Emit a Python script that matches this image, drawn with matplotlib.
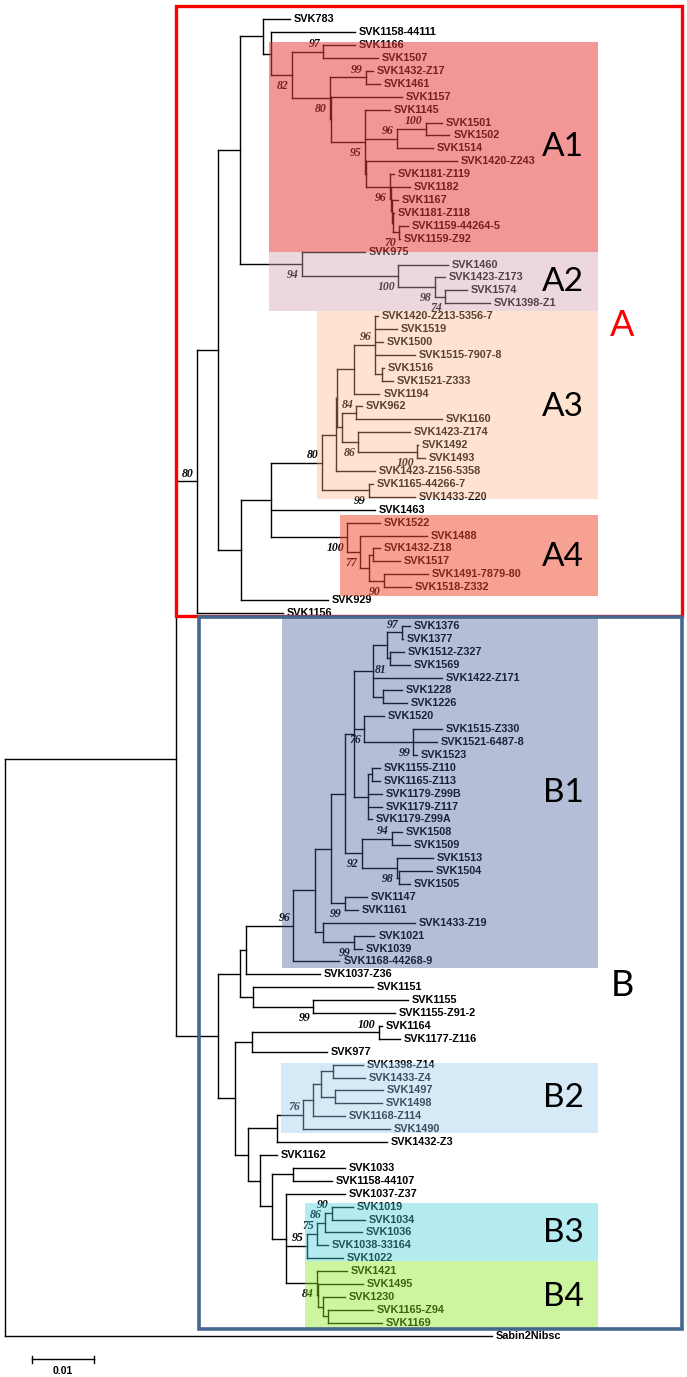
import matplotlib.pyplot as plt
from matplotlib.patches import Rectangle

# ---- tree data: tips in drawing order, distance from root (subs/site) ----
tips = ["SVK783", "SVK1158-44111", "SVK1166", "SVK1507", "SVK1432-Z17", "SVK1461", "SVK1157",
        "SVK1145", "SVK1501", "SVK1502", "SVK1514", "SVK1420-Z243", "SVK1181-Z119", "SVK1182",
        "SVK1167", "SVK1181-Z118", "SVK1159-44264-5", "SVK1159-Z92", "SVK975", "SVK1460",
        "SVK1423-Z173", "SVK1574", "SVK1398-Z1", "SVK1420-Z213-5356-7", "SVK1519", "SVK1500",
        "SVK1515-7907-8", "SVK1516", "SVK1521-Z333", "SVK1194", "SVK962", "SVK1160",
        "SVK1423-Z174", "SVK1492", "SVK1493", "SVK1423-Z156-5358", "SVK1165-44266-7",
        "SVK1433-Z20", "SVK1463", "SVK1522", "SVK1488", "SVK1432-Z18", "SVK1517",
        "SVK1491-7879-80", "SVK1518-Z332", "SVK929", "SVK1156", "SVK1376", "SVK1377",
        "SVK1512-Z327", "SVK1569", "SVK1422-Z171", "SVK1228", "SVK1226", "SVK1520",
        "SVK1515-Z330", "SVK1521-6487-8", "SVK1523", "SVK1155-Z110", "SVK1165-Z113",
        "SVK1179-Z99B", "SVK1179-Z117", "SVK1179-Z99A", "SVK1508", "SVK1509", "SVK1513",
        "SVK1504", "SVK1505", "SVK1147", "SVK1161", "SVK1433-Z19", "SVK1021", "SVK1039",
        "SVK1168-44268-9", "SVK1037-Z36", "SVK1151", "SVK1155", "SVK1155-Z91-2", "SVK1164",
        "SVK1177-Z116", "SVK977", "SVK1398-Z14", "SVK1433-Z4", "SVK1497", "SVK1498",
        "SVK1168-Z114", "SVK1490", "SVK1432-Z3", "SVK1162", "SVK1033", "SVK1158-44107",
        "SVK1037-Z37", "SVK1019", "SVK1034", "SVK1036", "SVK1038-33164", "SVK1022",
        "SVK1421", "SVK1495", "SVK1230", "SVK1165-Z94", "SVK1169", "Sabin2Nibsc"]

tip_depth = [0.0456, 0.0560, 0.0560, 0.0597, 0.0588, 0.0600, 0.0635, 0.0616, 0.0699, 0.0711,
             0.0684, 0.0723, 0.0622, 0.0648, 0.0629, 0.0622, 0.0645, 0.0632, 0.0576, 0.0709,
             0.0704, 0.0739, 0.0776, 0.0597, 0.0627, 0.0605, 0.0656, 0.0606, 0.0621, 0.0599,
             0.0571, 0.0699, 0.0648, 0.0660, 0.0672, 0.0592, 0.0589, 0.0656, 0.0592, 0.0600,
             0.0675, 0.0600, 0.0632, 0.0677, 0.0649, 0.0517, 0.0445, 0.0648, 0.0637, 0.0638,
             0.0648, 0.0699, 0.0635, 0.0643, 0.0606, 0.0699, 0.0691, 0.0659, 0.0600, 0.0600,
             0.0603, 0.0603, 0.0587, 0.0635, 0.0648, 0.0685, 0.0683, 0.0648, 0.0579, 0.0565,
             0.0656, 0.0591, 0.0571, 0.0535, 0.0504, 0.0589, 0.0645, 0.0624, 0.0603, 0.0632,
             0.0515, 0.0572, 0.0576, 0.0605, 0.0603, 0.0544, 0.0616, 0.0611, 0.0435, 0.0544,
             0.0523, 0.0544, 0.0557, 0.0576, 0.0571, 0.0517, 0.0541, 0.0547, 0.0573, 0.0544,
             0.0588, 0.0603, 0.0779]

# ---- internal nodes ----
node_id = ["root", "n176", "nA80", "n218", "nA0", "nA1", "nA1b", "n82", "n97a", "n80a",
           "n99a", "nX", "n95", "n96a", "n100a", "nP1", "n96b", "nU", "nV", "nW",
           "n70", "nA2", "n100b", "n98", "n74", "n241", "n272", "nA3", "n258", "n258i",
           "n312", "n96c", "n605", "n275", "n84", "n86", "n100d", "n99c", "n100c", "n77",
           "n568", "n580", "n90", "nB", "nP", "nR", "n96B", "n405", "n455", "n165",
           "n192", "n81", "n290", "n97b", "n300", "n282", "n76", "n99e", "nZ", "nZ110",
           "n92", "n94", "n650", "n98b", "n99f", "n428", "n99g", "nS", "n99h", "nQ",
           "nT", "n100e", "nU2", "n290b", "n76b", "n398", "n422", "n460", "n465", "n260",
           "n271", "n293", "n286", "n95b", "n75", "n86b", "n90b", "nB4", "nB4b", "nB4c",
           "nB4d"]

node_depth = [0.0, 0.0274, 0.0307, 0.0341, 0.0376, 0.0413, 0.0425, 0.0459, 0.0509, 0.0520,
              0.0577, 0.0522, 0.0576, 0.0627, 0.0673, 0.0578, 0.0616, 0.0618, 0.0619, 0.0621,
              0.0630, 0.0475, 0.0629, 0.0688, 0.0704, 0.0378, 0.0425, 0.0507, 0.0530, 0.0531,
              0.0558, 0.0592, 0.0603, 0.0539, 0.0562, 0.0565, 0.0659, 0.0582, 0.0547, 0.0568,
              0.0583, 0.0589, 0.0606, 0.0341, 0.0376, 0.0385, 0.0461, 0.0496, 0.0521, 0.0544,
              0.0558, 0.0588, 0.0611, 0.0635, 0.0616, 0.0605, 0.0574, 0.0653, 0.0581, 0.0587,
              0.0571, 0.0619, 0.0627, 0.0631, 0.0544, 0.0508, 0.0558, 0.0396, 0.0493, 0.0368,
              0.0395, 0.0598, 0.0389, 0.0435, 0.0477, 0.0492, 0.0505, 0.0525, 0.0528, 0.0408,
              0.0427, 0.0461, 0.0450, 0.0483, 0.0499, 0.0512, 0.0523, 0.0499, 0.0501, 0.0508,
              0.0517]

node_children = [
    ["n176", "Sabin2Nibsc"], ["nA80", "nB"], ["n218", "SVK1156"], ["nA0", "n241"],
    ["nA1", "nA2"], ["SVK783", "nA1b"], ["SVK1158-44111", "n82"], ["n97a", "n80a"],
    ["SVK1166", "SVK1507"], ["n99a", "nX"], ["SVK1432-Z17", "SVK1461"], ["SVK1157", "n95"],
    ["SVK1145", "n96a", "nP1"], ["n100a", "SVK1514"], ["SVK1501", "SVK1502"],
    ["SVK1420-Z243", "n96b"], ["SVK1181-Z119", "nU"], ["SVK1182", "nV"], ["SVK1167", "nW"],
    ["SVK1181-Z118", "n70"], ["SVK1159-44264-5", "SVK1159-Z92"], ["SVK975", "n100b"],
    ["SVK1460", "n98"], ["SVK1423-Z173", "n74"], ["SVK1574", "SVK1398-Z1"],
    ["n272", "SVK929"], ["nA3", "SVK1463", "n100c"], ["n258", "n99c"],
    ["n258i", "SVK1423-Z156-5358"], ["n312", "n275"], ["n96c", "SVK1194"],
    ["SVK1420-Z213-5356-7", "SVK1519", "SVK1500", "SVK1515-7907-8", "n605"],
    ["SVK1516", "SVK1521-Z333"], ["n84", "n86"], ["SVK962", "SVK1160"],
    ["SVK1423-Z174", "n100d"], ["SVK1492", "SVK1493"], ["SVK1165-44266-7", "SVK1433-Z20"],
    ["SVK1522", "n77"], ["SVK1488", "n568"], ["n580", "n90"], ["SVK1432-Z18", "SVK1517"],
    ["SVK1491-7879-80", "SVK1518-Z332"], ["nP", "nQ"], ["nR", "nS"],
    ["n96B", "SVK1037-Z36"], ["n405", "SVK1168-44268-9"], ["n455", "n428"],
    ["n165", "n99f"], ["n192", "n92"], ["n81", "n76", "nZ"],
    ["n290", "SVK1422-Z171", "n282"], ["n97b", "n300"], ["SVK1376", "SVK1377"],
    ["SVK1512-Z327", "SVK1569"], ["SVK1228", "SVK1226"], ["SVK1520", "n99e"],
    ["SVK1515-Z330", "SVK1521-6487-8", "SVK1523"],
    ["nZ110", "SVK1179-Z99B", "SVK1179-Z117", "SVK1179-Z99A"],
    ["SVK1155-Z110", "SVK1165-Z113"], ["n94", "n650"], ["SVK1508", "SVK1509"],
    ["SVK1513", "n98b"], ["SVK1504", "SVK1505"], ["SVK1147", "SVK1161"],
    ["SVK1433-Z19", "n99g"], ["SVK1021", "SVK1039"], ["SVK1151", "n99h"],
    ["SVK1155", "SVK1155-Z91-2"], ["nT", "nU2"], ["n100e", "SVK977"],
    ["SVK1164", "SVK1177-Z116"], ["n290b", "n260"], ["n76b", "SVK1432-Z3"],
    ["n398", "SVK1490"], ["n422", "SVK1168-Z114"], ["n460", "n465"],
    ["SVK1398-Z14", "SVK1433-Z4"], ["SVK1497", "SVK1498"], ["SVK1162", "n271"],
    ["n293", "n286"], ["SVK1033", "SVK1158-44107"], ["SVK1037-Z37", "n95b", "nB4"],
    ["n75", "SVK1022"], ["n86b", "SVK1038-33164"], ["n90b", "SVK1036"],
    ["SVK1019", "SVK1034"], ["SVK1421", "nB4b"], ["SVK1495", "nB4c"],
    ["SVK1230", "nB4d"], ["SVK1165-Z94", "SVK1169"]]

node_support = [None, None, 80, None, None, None, None, 82, 97, 80,
                99, None, 95, 96, 100, None, 96, None, None, None,
                70, 94, 100, 98, 74, None, None, 80, None, None,
                None, 96, None, None, 84, 86, 100, 99, 100, 77,
                None, None, 90, None, None, None, 96, None, None, None,
                None, 81, None, 97, None, None, 76, 99, None, None,
                92, 94, 98, None, 99, None, 99, None, 99, None,
                None, 100, None, None, 76, None, None, None, None, None,
                None, None, None, 95, 75, 86, 90, 84, None, None,
                None]

# ---- layout ----
W, H = 687, 1377
X0, PX_PER_UNIT = 5.0, 6250.0       # root at x=5 px; 0.01 subs/site = 62.5 px
Y0, ROW = 19.3, 12.906


def fx(p):
    return (p - X0) / PX_PER_UNIT


def fy(p):
    return (p - Y0) / ROW


depth = dict(zip(tips, tip_depth))
depth.update(zip(node_id, node_depth))
kids = dict(zip(node_id, node_children))
support = dict(zip(node_id, node_support))
ypos = {t: i for i, t in enumerate(tips)}


def place(n):
    if n in ypos:
        return ypos[n]
    ys = [place(k) for k in kids[n]]
    ypos[n] = (ys[0] + ys[-1]) / 2
    return ypos[n]


place("root")

fig = plt.figure(figsize=(W / 100, H / 100), dpi=100)
ax = fig.add_axes([0, 0, 1, 1])
ax.set_xlim(fx(0), fx(W))
ax.set_ylim(fy(H), fy(0))
ax.axis("off")

lw = 1.0
for n in node_id:
    ch = kids[n]
    ax.plot([depth[n], depth[n]], [ypos[ch[0]], ypos[ch[-1]]], color="black", lw=lw,
            solid_capstyle="projecting", zorder=2)
    for c in ch:
        ax.plot([depth[n], depth[c]], [ypos[c], ypos[c]], color="black", lw=lw,
                solid_capstyle="projecting", zorder=2)

for t in tips:
    ax.text(depth[t] + fx(X0 + 4), ypos[t], t, ha="left", va="center",
            fontsize=7.8, fontweight="bold", family="Liberation Sans", zorder=2)

below = {"n82", "n80a", "n95", "n96b", "n70", "nA2", "n100b", "n98", "n74", "n86",
         "n100d", "n99c", "n100c", "n77", "n90", "n76", "n99e", "n92", "n650", "n99f",
         "n99g", "n99h", "nB4"}
for n in node_id:
    s = support[n]
    if s is None:
        continue
    if n == "n81":
        ax.text(depth[n] + fx(X0 + 2), ypos[n] - 0.05, str(s), ha="left", va="center",
                fontsize=8.5, style="italic", fontweight="bold", family="Liberation Serif",
                zorder=2)
        continue
    dy = 0.85 if n in below else -0.6
    ax.text(depth[n] - fx(X0 + 3), ypos[n] + dy, str(s), ha="right", va="center",
            fontsize=8.5, style="italic", fontweight="bold", family="Liberation Serif",
            zorder=2)

# ---- clade shading (translucent, drawn over the tree so lines and text take the tint) ----
shades = [
    ("A1", (269, 41.5, 598, 251.7), "#E73A3A", 0.53, 147.5),
    ("A2", (269, 251.7, 598, 311), "#CF9EAA", 0.41, 282),
    ("A3", (316.5, 311, 598, 498.5), "#FAB47D", 0.36, 406.7),
    ("A4", (340, 515, 598, 596), "#EE4C30", 0.525, 557.5),
    ("B1", (281.5, 618, 598, 968.5), "#405A9A", 0.39, 793),
    ("B2", (281, 1062.7, 598, 1132.7), "#96C8EC", 0.40, 1098),
    ("B3", (305, 1203.3, 598, 1261), "#49CFDC", 0.41, 1233),
    ("B4", (305, 1261, 598, 1329.3), "#8CE923", 0.43, 1297),
]
for name, (x1, y1, x2, y2), col, a, ly in shades:
    ax.add_patch(Rectangle((fx(x1), fy(y1)), fx(x2) - fx(x1), fy(y2) - fy(y1),
                           facecolor=col, edgecolor="none", alpha=a, zorder=4))
    ax.text(fx(584), fy(ly), name, ha="right", va="center", fontsize=24,
            family="Lato", color="black", zorder=5)

# ---- group frames ----
ax.add_patch(Rectangle((fx(175.5), fy(5.5)), fx(682) - fx(175.5), fy(616) - fy(5.5),
                       facecolor="none", edgecolor="#FF0000", lw=2.4, zorder=6))
ax.add_patch(Rectangle((fx(198.5), fy(617)), fx(682) - fx(198.5), fy(1328.5) - fy(617),
                       facecolor="none", edgecolor="#44678F", lw=2.6, zorder=7))
ax.text(fx(622), fy(325), "A", ha="center", va="center", fontsize=26, family="Lato",
        color="#FF0000", zorder=6)
ax.text(fx(622), fy(985), "B", ha="center", va="center", fontsize=26, family="Lato",
        color="black", zorder=6)

# ---- scale bar ----
sb0 = fx(31.6)
ax.plot([sb0, sb0 + 0.01], [fy(1359), fy(1359)], color="black", lw=1.0)
for xe in (sb0, sb0 + 0.01):
    ax.plot([xe, xe], [fy(1355.5), fy(1362.5)], color="black", lw=1.0)
ax.text(sb0 + 0.005, fy(1371), "0.01", ha="center", va="center", fontsize=7.5,
        fontweight="bold", family="Liberation Sans")

fig.savefig("out.png", dpi=100)
